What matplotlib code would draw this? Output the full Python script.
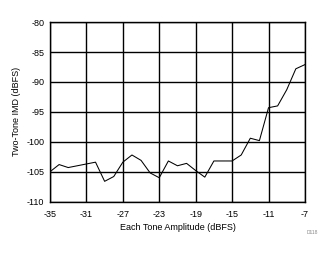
import matplotlib
matplotlib.use("Agg")
import matplotlib.pyplot as plt

plt.rcParams['font.family'] = ['Liberation Sans', 'DejaVu Sans']

amplitude = [-35, -34, -33, -32, -31, -30, -29, -28, -27, -26, -25, -24, -23, -22,
             -21, -20, -19, -18, -17, -16, -15, -14, -13, -12, -11, -10, -9, -8, -7]
imd = [-105.0, -103.8, -104.3, -104.0, -103.7, -103.4, -106.6, -105.8, -103.4, -102.2,
       -103.1, -105.2, -106.0, -103.2, -104.0, -103.6, -104.8, -105.9, -103.2, -103.2,
       -103.2, -102.2, -99.4, -99.8, -94.3, -94.0, -91.3, -87.8, -87.1]
xticks = [-35, -31, -27, -23, -19, -15, -11, -7]
yticks = [-110, -105, -100, -95, -90, -85, -80]

fig = plt.figure(figsize=(3.34, 2.54), dpi=100)
ax = fig.add_axes([0.1497, 0.206, 0.7633, 0.707])
ax.plot(amplitude, imd, color='black', linewidth=0.75)
ax.set_xlim(-35, -7)
ax.set_ylim(-110, -80)
ax.set_xticks(xticks)
ax.set_yticks(yticks)
ax.set_xticklabels([str(t) for t in xticks])
ax.set_yticklabels([str(t) for t in yticks])
ax.grid(True, color='black', linewidth=1.0)
ax.set_axisbelow(True)
for s in ax.spines.values():
    s.set_linewidth(1.0)
    s.set_color('black')
ax.tick_params(axis='y', length=0, pad=4, labelsize=6.5)
ax.tick_params(axis='x', length=0, pad=6, labelsize=6.5)
ax.set_xlabel('Each Tone Amplitude (dBFS)', fontsize=6.5, labelpad=3)
ax.set_ylabel('Two-Tone IMD (dBFS)', fontsize=6.5, labelpad=4)
fig.text(0.935, 0.083, 'D118', fontsize=3.5, color='#888888', ha='center', va='center')
fig.savefig('out.png', dpi=100)
